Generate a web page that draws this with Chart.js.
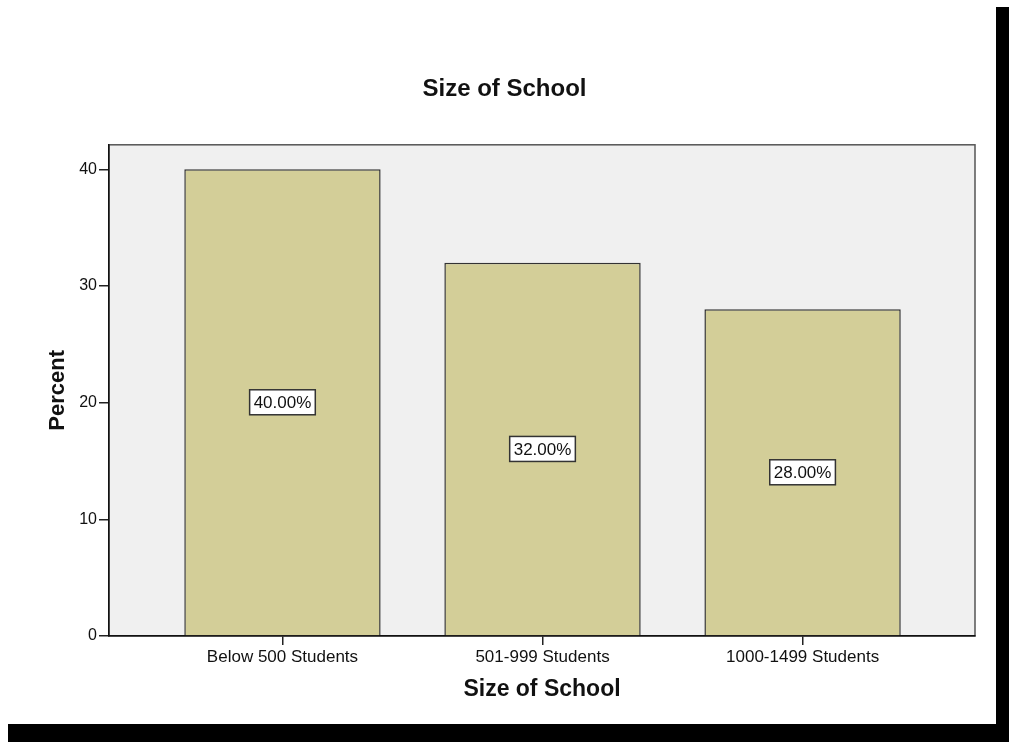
<!DOCTYPE html>
<html>
<head>
<meta charset="utf-8">
<title>Size of School</title>
<script src="https://cdn.jsdelivr.net/npm/chart.js@4.4.1/dist/chart.umd.min.js"></script>
<style>
  html, body { margin: 0; padding: 0; background: #fff; }
  #wrap { width: 1009px; height: 742px; }
</style>
</head>
<body>
<div id="wrap"><canvas id="chart" width="1009" height="742"></canvas></div>
<script>
// chart data
const categories = ['Below 500 Students', '501-999 Students', '1000-1499 Students'];
const percents = [40, 32, 28];
const yTicks = [0, 10, 20, 30, 40];

const barFill = '#d3ce98';
const barEdge = '#333';

// plot background + frame, and the black shadow strips of the screenshot
const backdrop = {
  id: 'backdrop',
  beforeDraw(chart) {
    const c = chart.ctx, a = chart.chartArea;
    c.save();
    c.fillStyle = '#fff';
    c.fillRect(0, 0, chart.width, chart.height);
    c.fillStyle = '#000';
    c.fillRect(996, 7, chart.width - 996, chart.height - 7);
    c.fillRect(8, 724, chart.width - 8, chart.height - 724);
    c.fillStyle = '#f0f0f0';
    c.fillRect(a.left, a.top, a.right - a.left, a.bottom - a.top);
    c.strokeStyle = '#555';
    c.lineWidth = 1.5;
    c.strokeRect(a.left, a.top, a.right - a.left, a.bottom - a.top);
    c.restore();
  }
};

// boxed percentage labels in the middle of each bar
const boxLabels = {
  id: 'boxLabels',
  afterDatasetsDraw(chart) {
    const c = chart.ctx;
    const meta = chart.getDatasetMeta(0);
    c.save();
    c.font = '17px "Liberation Sans", Arial, sans-serif';
    c.textAlign = 'center';
    c.textBaseline = 'middle';
    meta.data.forEach((bar, i) => {
      const txt = percents[i].toFixed(2) + '%';
      const mid = (bar.y + bar.base) / 2;
      const w = c.measureText(txt).width + 8;
      const h = 25;
      c.fillStyle = '#fff';
      c.fillRect(bar.x - w / 2, mid - h / 2, w, h);
      c.strokeStyle = '#333';
      c.lineWidth = 1.5;
      c.strokeRect(bar.x - w / 2, mid - h / 2, w, h);
      c.fillStyle = '#111';
      c.fillText(txt, bar.x, mid + 1);
    });
    c.restore();
  }
};

Chart.defaults.font.family = '"Liberation Sans", Arial, sans-serif';
Chart.defaults.color = '#111';

new Chart(document.getElementById('chart'), {
  type: 'bar',
  data: {
    datasets: [{
      data: percents.map((v, i) => ({ x: i, y: v })),
      backgroundColor: barFill,
      borderColor: barEdge,
      borderWidth: 1.5,
      categoryPercentage: 1,
      barPercentage: 0.755
    }]
  },
  options: {
    responsive: false,
    animation: false,
    devicePixelRatio: 1,
    layout: { padding: 0 },
    plugins: {
      legend: { display: false },
      tooltip: { enabled: false },
      title: {
        display: true,
        text: 'Size of School',
        font: { size: 24, weight: 'bold' },
        color: '#111',
        padding: { top: 75, bottom: 41 }
      }
    },
    scales: {
      x: {
        type: 'linear',
        offset: false,
        min: -0.667,
        max: 2.663,
        afterBuildTicks: s => { s.ticks = categories.map((_, i) => ({ value: i })); },
        afterFit: s => { s.height = 106; },
        ticks: {
          autoSkip: false,
          maxRotation: 0,
          includeBounds: false,
          font: { size: 17 },
          padding: 2,
          callback: v => categories[v]
        },
        grid: { offset: false, drawOnChartArea: false, drawTicks: true, tickLength: 9, color: '#222', lineWidth: 1.5 },
        border: { display: true, color: '#111', width: 1.5 },
        title: {
          display: true,
          text: 'Size of School',
          font: { size: 23, weight: 'bold' },
          padding: { top: 0, bottom: 39 }
        }
      },
      y: {
        min: 0,
        max: 42.1,
        afterBuildTicks: s => { s.ticks = yTicks.map(v => ({ value: v })); },
        afterFit: s => { s.width = 109; },
        ticks: { font: { size: 16 }, padding: 2, includeBounds: false },
        grid: { drawOnChartArea: false, drawTicks: true, tickLength: 10, color: '#222', lineWidth: 1.5 },
        border: { display: true, color: '#111', width: 1.5 },
        title: {
          display: true,
          text: 'Percent',
          font: { size: 22, weight: 'bold' },
          padding: { top: 45, bottom: 0 }
        }
      },
      yRight: {
        position: 'right',
        display: true,
        afterFit: s => { s.width = 34; },
        ticks: { display: false },
        grid: { display: false },
        border: { display: false }
      }
    }
  },
  plugins: [backdrop, boxLabels]
});
</script>
</body>
</html>
